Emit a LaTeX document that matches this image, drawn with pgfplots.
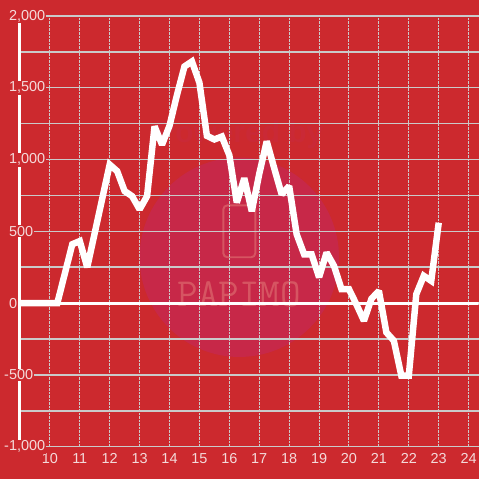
\documentclass[border=0pt]{standalone}
\usepackage{pgfplots}
\pgfplotsset{compat=1.18}
\usepackage{fontspec}
\setmainfont{Liberation Sans}
\definecolor{bg}{HTML}{CC292E}
\definecolor{wm}{HTML}{C72848}
\definecolor{wmtext}{HTML}{D65562}
\definecolor{lbl}{HTML}{F4DADA}
\definecolor{gridc}{HTML}{CACACA}

\begin{document}
\begin{tikzpicture}[x=1pt,y=1pt]
% background and watermark
\fill[bg] (0,0) rectangle (480,480);
\fill[wm] (240,222) circle (100);
\node[text=bg!70!wm, font=\bfseries\fontsize{30}{30}\selectfont] at (240,345) {Powered by};
\draw[wmtext, line width=2pt, rounded corners=4pt] (224,222) rectangle (256,274);
\node[text=wmtext, font=\ttfamily\fontsize{40}{40}\selectfont] at (240,185) {PAPIMO};
\begin{axis}[
  at={(20pt,32pt)}, anchor=south west,
  scale only axis, width=460pt, height=432pt,
  xmin=9, xmax=24.3333, ymin=-1000, ymax=2000,
  axis lines=left, axis line style={-},
  x axis line style={draw=none},
  y axis line style={white, line width=3pt},
  tick style={draw=none},
  xtick={10,...,24},
  ytick={-1000,-500,0,500,1000,1500,2000},
  yticklabels={{\llap{-}1,000},{\llap{-}500},0,500,{1,000},{1,500},{2,000}},
  minor y tick num=1,
  xmajorgrids, ymajorgrids, yminorgrids,
  major x grid style={gridc, densely dotted, line width=1pt},
  major y grid style={gridc, line width=1.5pt},
  minor y grid style={gridc, line width=1.5pt},
  ticklabel style={font=\fontsize{14.5}{16}\selectfont, text=lbl},
  every y tick label/.append style={anchor=west, xshift=-10pt, fill=bg, inner sep=1pt},
  xticklabel style={yshift=-1pt},
  /pgf/number format/assume math mode=true,
]
\addplot[white, line width=3pt] coordinates {(9,0) (24.3333,0)};
\addplot[white, line width=6.5pt, line join=miter, miter limit=2] coordinates {
  (9.0,0) (10.25,0) (10.75,410) (11.0,432) (11.25,250)
  (12.0,965) (12.25,919) (12.5,780) (12.75,745) (13.0,653) (13.25,745)
  (13.5,1231) (13.75,1104) (14.0,1235) (14.25,1450) (14.5,1648) (14.75,1683)
  (15.0,1535) (15.25,1165) (15.5,1140) (15.75,1160) (16.0,1030)
  (16.25,700) (16.5,870) (16.75,640) (17.0,900) (17.25,1127) (17.5,940)
  (17.75,757) (18.0,815) (18.25,480) (18.5,340) (18.75,340) (19.0,180)
  (19.25,352) (19.5,259) (19.75,97) (20.0,97) (20.25,-10) (20.5,-123)
  (20.75,30) (21.0,85) (21.25,-204) (21.5,-262) (21.75,-505) (22.0,-505)
  (22.25,62) (22.5,190) (22.75,155) (23.0,560)
};
\end{axis}
\end{tikzpicture}
\end{document}
